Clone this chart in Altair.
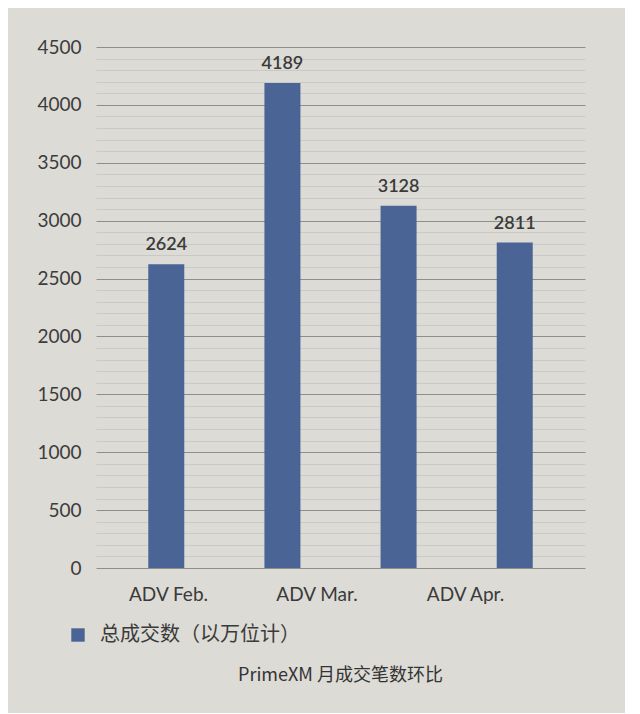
import altair as alt
import pandas as pd

bar_ids = ["b1", "b2", "b3", "b4"]
values = [2624, 4189, 3128, 2811]
x_labels = ["ADV Feb.", "ADV Mar.", "ADV Apr."]
series_name = "总成交数（以万位计）"
title_text = "PrimeXM 月成交笔数环比"
y_ticks = list(range(0, 4501, 100))

bars_df = pd.DataFrame({"id": bar_ids, "value": values, "series": [series_name] * len(values)})
labels_df = pd.DataFrame({"label": x_labels})

LATIN = "Lato"
CJK = "Noto Sans CJK SC"

def y_axis():
    return alt.Axis(
        values=y_ticks,
        format="d",
        labelExpr="datum.value % 500 === 0 ? datum.label : ''",
        labelOverlap=False,
        labelFont=LATIN,
        labelFontSize=19,
        labelColor="#3c3c3c",
        labelPadding=15,
        ticks=False,
        domain=False,
        title=None,
        gridColor=alt.condition("datum.value % 500 === 0", alt.value("#8e8e8e"), alt.value("#c6c4c0")),
        gridWidth=alt.condition("datum.value % 500 === 0", alt.value(1.2), alt.value(0.8)),
    )

def y_enc():
    return alt.Y("value:Q", scale=alt.Scale(domain=[0, 4500], nice=False), axis=y_axis())

def x_enc():
    return alt.X("id:N", sort=bar_ids, axis=None,
                 scale=alt.Scale(paddingInner=0.69, paddingOuter=0.45))

base = alt.Chart(bars_df)

bars = base.mark_bar(color="#4a6595").encode(
    x=x_enc(),
    y=y_enc(),
    color=alt.Color("series:N", scale=alt.Scale(range=["#4a6595"]),
                    legend=alt.Legend(orient="none", legendX=-28, legendY=578,
                                      title=None, symbolType="square", symbolSize=180,
                                      labelFont=CJK, labelFontSize=20, labelColor="#3a3a3a",
                                      labelOffset=12, labelLimit=0)),
)

text = base.mark_text(dy=-19, font=LATIN, fontSize=18, fontWeight=600, color="#3a3a3a").encode(
    x=x_enc(),
    y=y_enc(),
    text=alt.Text("value:Q", format="d"),
)

bar_layer = alt.layer(bars, text)

label_layer = alt.Chart(labels_df).mark_point(opacity=0).encode(
    x=alt.X("label:N", sort=x_labels,
            scale=alt.Scale(type="point", range=[72, 369], padding=0),
            axis=alt.Axis(title=None, ticks=False, domain=False, grid=False,
                          labelFont=LATIN, labelFontSize=19, labelColor="#3a3a3a",
                          labelPadding=17, labelAngle=0)),
)

chart = alt.layer(bar_layer, label_layer).resolve_scale(x="independent").properties(
    width=489,
    height=521,
    background="#dddbd6",
    padding={"left": 28, "top": 30, "right": 40, "bottom": 28},
    title=alt.TitleParams(title_text, orient="bottom", anchor="middle", font=CJK,
                          fontSize=18, fontWeight="normal", color="#333333", offset=22),
).configure_view(stroke=None)

chart.save("out.html", embed_options={"renderer": "svg", "actions": False})
